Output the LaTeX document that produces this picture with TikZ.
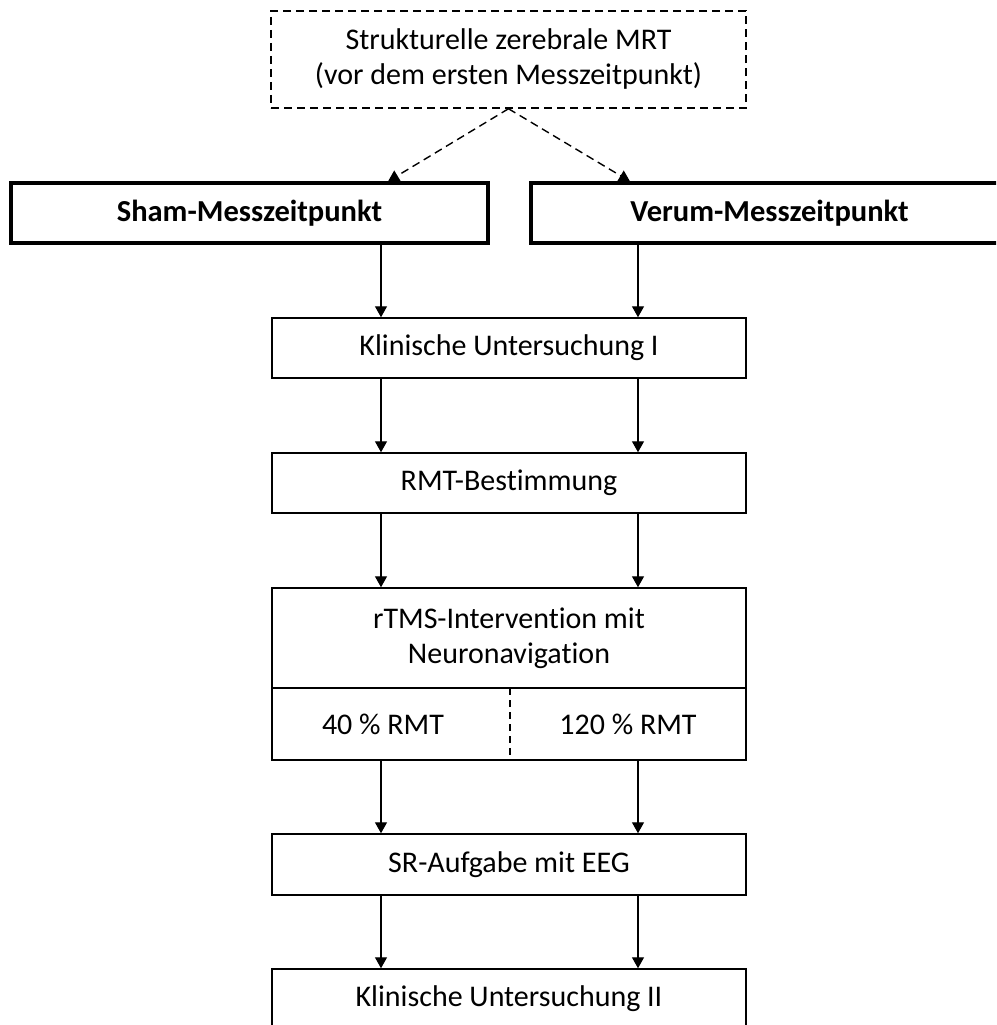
\documentclass[tikz,border=0pt]{standalone}
\usepackage{fontspec}
\setmainfont[Ligatures={NoCommon}]{Carlito}
\usetikzlibrary{arrows.meta}
\begin{document}
\begin{tikzpicture}[x=1pt,y=-1pt,
  every node/.style={font=\fontsize{30}{35}\selectfont, inner sep=0pt, align=center},
  box/.style={draw, line width=1.5pt, minimum width=474pt, minimum height=60pt},
  bbox/.style={draw, line width=3.2pt, minimum width=477pt, minimum height=60pt, font=\fontsize{30.5}{35}\selectfont\bfseries},
  dbox/.style={draw, line width=1.5pt, dash pattern=on 8pt off 5pt, minimum width=475pt, minimum height=97pt},
  arr/.style={line width=1.4pt, -{Triangle[width=12pt,length=11pt]}},
  darr/.style={line width=1.4pt, dash pattern=on 8pt off 5pt, -{Triangle[width=12pt,length=11pt]}}
]
\clip (0,0) rectangle (996,1025);
\fill[white] (0,0) rectangle (996,1025);
\coordinate (L) at (381,0);
\coordinate (R) at (638,0);
\coordinate (LT) at (388,0);
\coordinate (RT) at (630,0);
\coordinate (MID) at (510,0);

\node[dbox] (mrt) at (508.5,59.5) {Strukturelle zerebrale MRT\\(vor dem ersten Messzeitpunkt)};
\node[bbox] (sham) at (249.5,213) {Sham-Messzeitpunkt};
\node[bbox] (verum) at (769.5,213) {Verum-Messzeitpunkt};
\node[box] (k1) at (509,348) {Klinische Untersuchung I};
\node[box] (rmt) at (509,483) {RMT-Bestimmung};
\node[box, minimum height=172pt] (rtms) at (509,674) {};
\node (rtmstext) at (509,638) {rTMS-Intervention mit\\Neuronavigation};
\coordinate (divy) at (0,688);
\draw[line width=1.5pt] (rtms.west |- divy) -- (rtms.east |- divy);
\draw[line width=1.5pt, dash pattern=on 7pt off 5pt] (MID |- divy) -- (MID |- rtms.south);
\node (p40) at (383,724) {40 \% RMT};
\node (p120) at (628,724) {120 \% RMT};
\node[box, minimum height=61pt] (sr) at (509,864.5) {SR-Aufgabe mit EEG};
\node[box] (k2) at (509,999) {Klinische Untersuchung II};

\draw[darr] (mrt.south) -- (sham.north -| LT);
\draw[darr] (mrt.south) -- (verum.north -| RT);

\draw[arr] (sham.south -| L) -- (k1.north -| L);
\draw[arr] (verum.south -| R) -- (k1.north -| R);
\draw[arr] (k1.south -| L) -- (rmt.north -| L);
\draw[arr] (k1.south -| R) -- (rmt.north -| R);
\draw[arr] (rmt.south -| L) -- (rtms.north -| L);
\draw[arr] (rmt.south -| R) -- (rtms.north -| R);
\draw[arr] (rtms.south -| L) -- (sr.north -| L);
\draw[arr] (rtms.south -| R) -- (sr.north -| R);
\draw[arr] (sr.south -| L) -- (k2.north -| L);
\draw[arr] (sr.south -| R) -- (k2.north -| R);
\end{tikzpicture}
\end{document}
